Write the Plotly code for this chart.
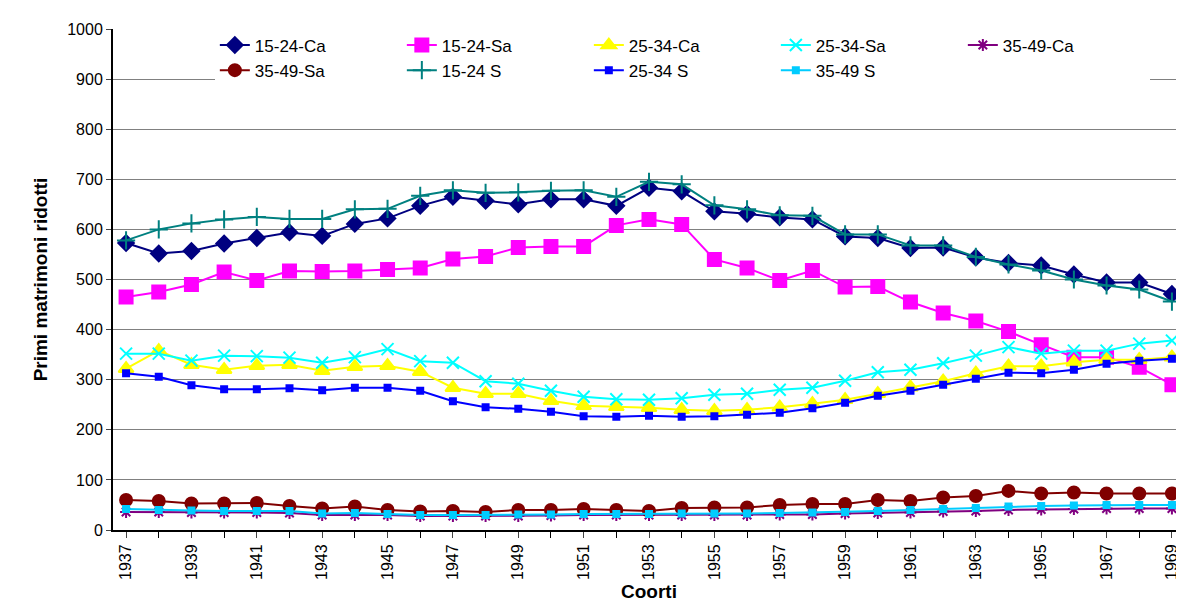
import plotly.graph_objects as go

years = list(range(1937, 1970))

ca_15_24 = [573, 552, 557, 572, 583, 594, 587, 611, 622, 647, 665, 657, 650, 660, 660, 647, 683,
            676, 636, 631, 624, 620, 586, 583, 563, 564, 544, 533, 528, 510, 494, 494, 471]
sa_15_24 = [465, 475, 490, 515, 498, 517, 516, 517, 520, 523, 541, 546, 564, 566, 566, 608, 620,
            610, 540, 523, 498, 518, 485, 486, 455, 433, 417, 396, 370, 345, 345, 325, 290]
ca_25_34 = [322, 358, 330, 320, 328, 330, 318, 326, 328, 316, 284, 272, 272, 258, 248, 246, 244,
            240, 238, 240, 245, 252, 260, 272, 285, 297, 313, 327, 327, 335, 340, 340, 345]
sa_25_34 = [352, 352, 338, 348, 347, 344, 334, 345, 361, 337, 334, 297, 292, 278, 266, 261, 260,
            263, 270, 272, 280, 284, 298, 315, 320, 333, 348, 365, 352, 358, 358, 372, 378]
ca_35_49 = [36, 36, 35, 35, 35, 34, 30, 30, 30, 28, 28, 28, 28, 29, 30, 30, 30,
            30, 30, 30, 31, 31, 33, 34, 35, 37, 38, 40, 41, 42, 43, 43, 43]
sa_35_49 = [60, 58, 53, 53, 54, 48, 43, 47, 40, 37, 38, 36, 40, 40, 42, 40, 38,
            44, 45, 45, 50, 52, 52, 60, 58, 65, 68, 78, 73, 75, 73, 73, 73]
s_15_24 = [578, 600, 612, 620, 625, 621, 621, 640, 641, 667, 678, 673, 674, 677, 678, 665, 695,
           690, 648, 640, 628, 627, 590, 590, 568, 568, 545, 530, 518, 500, 488, 480, 456]
s_25_34 = [313, 306, 289, 281, 281, 283, 279, 284, 284, 278, 257, 245, 242, 236, 227, 226, 228,
           226, 227, 230, 234, 243, 254, 268, 278, 290, 302, 314, 313, 320, 332, 338, 342]
s_35_49 = [42, 40, 39, 38, 38, 38, 33, 34, 32, 30, 30, 30, 31, 31, 32, 32, 32,
           33, 33, 33, 34, 35, 36, 38, 40, 42, 44, 47, 48, 49, 50, 50, 50]

series = [
    ("15-24-Ca", ca_15_24, "#000080", "diamond", 12),
    ("15-24-Sa", sa_15_24, "#FF00FF", "square", 13),
    ("25-34-Ca", ca_25_34, "#FFFF00", "triangle-up", 13),
    ("25-34-Sa", sa_25_34, "#00FFFF", "x-thin", 12),
    ("35-49-Ca", ca_35_49, "#800080", "asterisk", 10),
    ("35-49-Sa", sa_35_49, "#800000", "circle", 12),
    ("15-24 S", s_15_24, "#008080", "cross-thin", 13),
    ("25-34 S", s_25_34, "#0000FF", "square", 6),
    ("35-49 S", s_35_49, "#00CCFF", "square", 6),
]

fig = go.Figure()
for name, vals, col, sym, sz in series:
    fig.add_trace(go.Scatter(
        x=years, y=vals, name=name, mode="lines+markers",
        line=dict(color=col, width=2),
        marker=dict(symbol=sym, size=sz, color=col, line=dict(color=col, width=2)),
    ))

fig.update_layout(
    width=1184, height=616,
    paper_bgcolor="white", plot_bgcolor="white",
    margin=dict(l=105, r=7, t=21, b=94),
    font=dict(family="Liberation Sans, Arial", size=16, color="black"),
    legend=dict(orientation="h", x=0.095, y=1.003, xanchor="left", yanchor="top",
                bgcolor="white", entrywidth=142, tracegroupgap=0,
                font=dict(size=17)),
    xaxis=dict(
        title=dict(text="<b>Coorti</b>", standoff=6),
        range=[1936.6, 1969.4], tickmode="array",
        tickvals=years[::2], tickangle=-90,
        ticks="outside", ticklen=6, showgrid=False,
        showline=True, linecolor="black", linewidth=2, mirror=False,
        minor=dict(tickvals=years, ticks="outside", ticklen=6, tickcolor="black"),
    ),
    yaxis=dict(
        title=dict(text="<b>Primi matrimoni ridotti</b>"),
        range=[0, 1000], dtick=100, ticks="outside", ticklen=5,
        showgrid=True, gridcolor="#808080", gridwidth=1,
        showline=True, linecolor="black", linewidth=2, zeroline=False,
    ),
)

fig.write_html("out.html")
